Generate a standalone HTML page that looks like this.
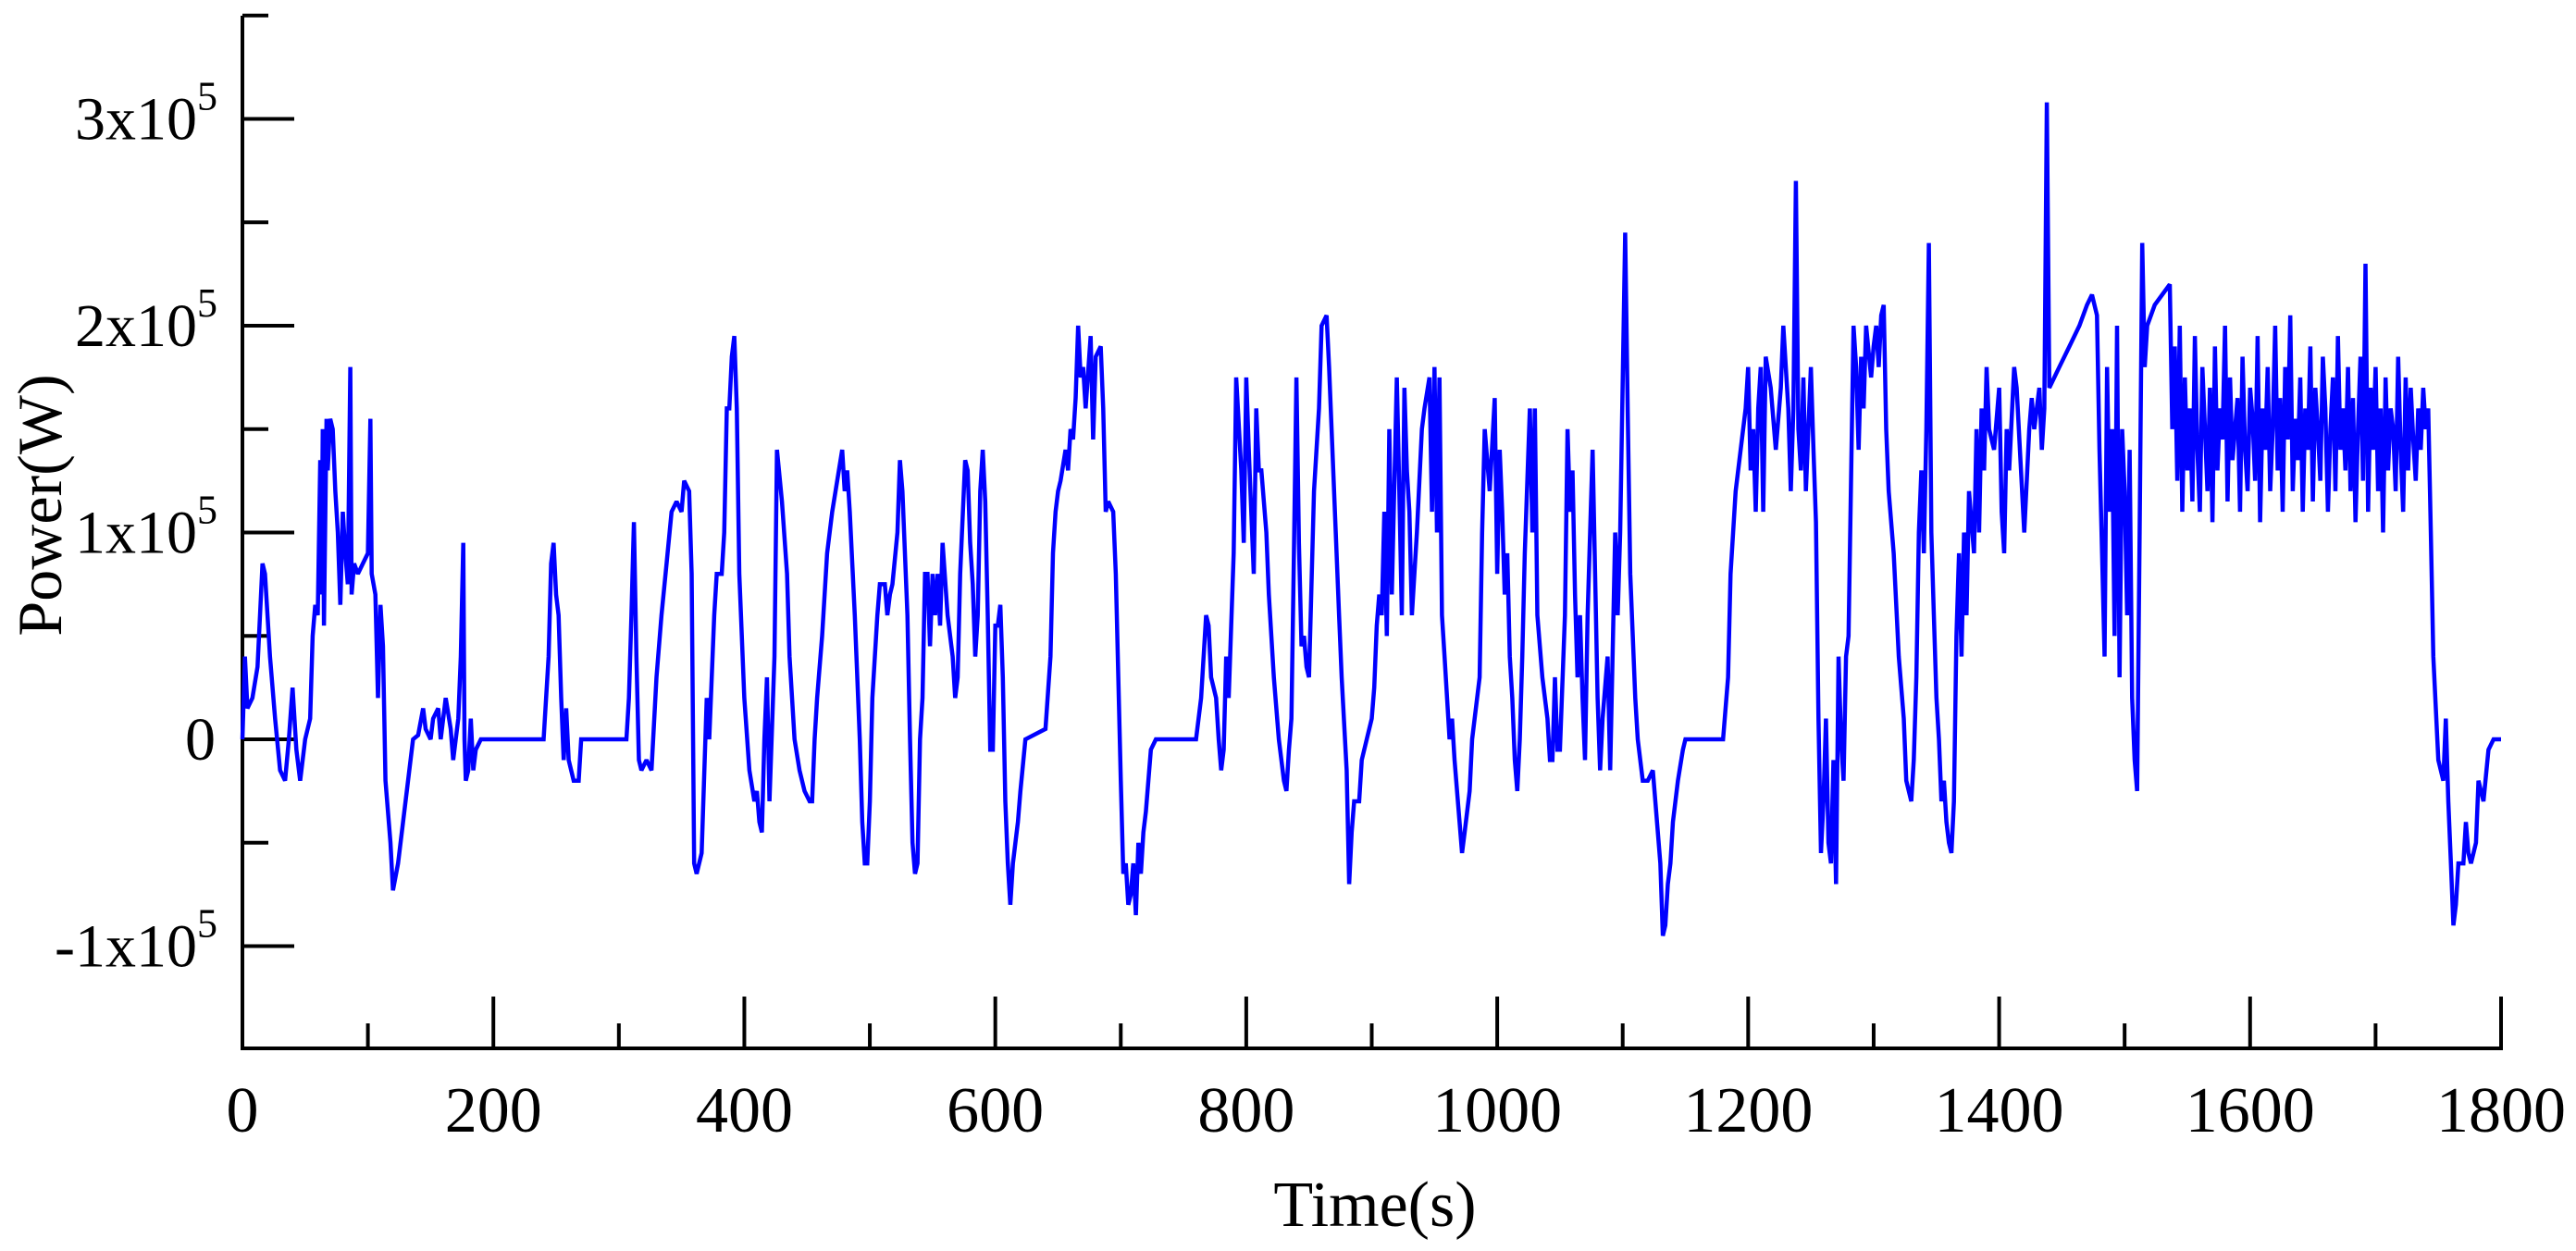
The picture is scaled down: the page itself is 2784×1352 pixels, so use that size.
<!DOCTYPE html>
<html><head><meta charset="utf-8">
<style>
html,body{margin:0;padding:0;background:#fff;}
svg{display:block;}
text{font-family:"Liberation Serif",serif;fill:#000;}
</style></head>
<body>
<svg id="chart" width="2784" height="1352" viewBox="0 0 2784 1352" xmlns="http://www.w3.org/2000/svg">
<g id="axes"></g>
<g id="plot"></g>
<text x="0" y="0" font-size="68" text-anchor="middle" transform="translate(66,546) rotate(-90)">Power(W)</text>
<text x="1486" y="1325" font-size="70" text-anchor="middle">Time(s)</text>
</svg>
<script>
const times = [0,2,4,8,12,16,18,22,26,30,34,37,40,43,46,50,54,56,58,60,62,63,64,65,67,68,70,72,74,76,78,80,82,84,86,87,89,92,96,100,102,103,106,108,110,112,114,118,120,124,128,132,136,140,144,146,150,152,156,158,162,166,168,172,174,176,177,178,180,182,184,186,190,240,244,246,248,250,252,254,256,258,260,264,268,270,306,308,310,312,314,316,318,322,326,330,334,338,342,346,350,352,356,358,360,362,366,370,372,376,378,382,384,386,388,390,392,394,396,400,404,408,410,412,414,416,418,420,424,426,430,434,436,440,444,448,452,454,456,458,462,466,470,474,478,480,482,484,488,492,494,496,498,500,502,506,508,512,514,516,518,522,524,526,530,532,534,536,538,540,542,544,546,548,550,552,554,556,558,562,566,568,570,572,576,578,580,582,584,586,588,590,592,594,596,598,600,602,604,606,608,610,612,614,618,620,624,640,644,646,648,650,652,656,658,660,662,664,666,668,670,672,676,678,680,684,686,688,690,694,696,698,700,702,704,706,708,710,712,714,716,718,720,722,724,728,760,764,768,770,772,776,778,780,782,784,786,790,792,796,798,800,802,804,806,808,810,812,816,818,820,822,826,830,832,834,836,838,840,842,844,846,848,850,854,858,860,864,866,870,874,876,880,882,884,886,890,892,896,900,902,904,906,908,910,912,914,916,920,922,924,926,928,930,932,934,936,940,942,946,948,950,952,954,956,958,960,962,964,966,970,972,974,978,980,986,988,990,994,998,1000,1002,1004,1006,1008,1010,1012,1014,1016,1018,1020,1022,1026,1028,1030,1032,1036,1040,1042,1044,1046,1048,1050,1054,1056,1058,1060,1062,1064,1066,1068,1070,1072,1076,1078,1080,1082,1084,1088,1090,1094,1096,1098,1102,1104,1106,1108,1110,1112,1116,1120,1124,1126,1130,1132,1134,1136,1138,1140,1144,1148,1150,1180,1184,1186,1190,1194,1198,1200,1202,1204,1206,1208,1210,1212,1214,1218,1222,1226,1228,1232,1234,1236,1238,1240,1242,1244,1246,1250,1252,1254,1256,1258,1260,1262,1264,1266,1268,1270,1272,1274,1276,1278,1280,1284,1286,1288,1290,1292,1294,1298,1300,1302,1304,1306,1308,1310,1312,1316,1320,1324,1326,1330,1332,1334,1336,1338,1340,1342,1344,1346,1348,1350,1352,1354,1356,1358,1360,1362,1364,1366,1368,1370,1372,1374,1376,1380,1382,1384,1386,1388,1390,1392,1396,1400,1402,1404,1406,1408,1412,1414,1420,1424,1426,1428,1432,1434,1436,1438,1440,1444,1448,1456,1464,1470,1474,1478,1480,1482,1484,1486,1488,1490,1492,1494,1496,1498,1500,1502,1504,1506,1508,1510,1512,1514,1516,1518,1524,1530,1536,1538];
const powerKW = [0,40,15,20,35,85,80,40,10,-15,-20,0,25,-5,-20,0,10,50,65,60,135,70,150,55,155,130,155,150,120,100,65,110,90,75,180,70,85,80,85,90,155,80,70,20,65,45,-20,-50,-73,-60,-40,-20,0,2,15,5,0,10,15,0,20,5,-10,10,40,95,0,-20,-15,10,-15,-5,0,0,40,85,95,70,60,20,-10,15,-10,-20,-20,0,0,20,60,105,40,-10,-15,-10,-15,30,60,85,110,115,110,125,120,80,-60,-65,-55,20,0,60,80,80,100,160,160,185,195,160,80,20,-15,-30,-25,-40,-45,0,30,-30,40,140,115,80,40,0,-15,-25,-30,-30,0,20,50,90,110,125,140,120,130,110,60,0,-40,-60,-60,-30,20,60,75,75,60,70,75,100,135,120,60,0,-50,-65,-60,0,20,80,80,45,80,60,80,55,95,60,40,20,30,80,135,130,95,75,40,60,120,140,115,60,-5,-5,55,55,65,30,-30,-60,-80,-60,-40,-25,0,5,40,90,110,120,125,140,130,150,145,165,200,175,180,160,195,145,185,190,160,110,115,110,80,30,-20,-65,-60,-80,-75,-60,-85,-50,-65,-45,-35,-20,-5,0,0,20,60,55,30,20,0,-15,-5,40,20,90,175,130,95,175,140,110,80,160,130,130,100,70,50,30,0,-20,-25,-5,10,90,175,95,45,50,35,30,120,160,200,205,180,120,60,30,-15,-70,-45,-30,-30,-10,0,10,25,55,70,60,110,50,150,70,175,120,60,170,130,110,60,80,100,150,160,175,110,180,100,175,60,40,20,0,10,-10,-40,-55,-45,-25,0,30,100,150,120,165,80,140,110,70,90,40,20,-10,-25,0,40,90,160,100,160,60,30,10,-10,-10,30,-5,-5,60,150,110,130,70,30,60,20,-10,60,140,80,20,-15,10,40,-15,100,60,100,245,160,80,50,20,0,-20,-20,-15,-30,-60,-95,-90,-70,-60,-40,-20,-5,0,0,30,80,120,140,160,180,130,150,110,160,180,110,185,170,140,170,200,160,120,160,270,150,130,175,120,180,140,105,10,-55,-30,10,-50,-60,-10,-70,40,0,-20,40,50,200,180,140,185,160,200,175,190,200,180,205,210,150,120,90,40,10,-20,-30,-10,30,100,130,90,150,240,100,60,20,0,-30,-20,-40,-50,-55,-30,50,90,40,100,60,120,90,150,100,160,130,180,150,140,170,110,90,150,130,180,170,100,150,165,150,170,140,160,308,170,175,180,190,200,210,215,205,140,90,40,180,110,150,50,200,30,150,120,60,140,20,-10,-25,100,240,180,200,210,215,220,150];
const bandStart = 1540;
const bandStep = 2;
const bandKW = [190,125,200,110,175,130,160,115,195,140,110,180,150,120,170,105,190,130,160,145,200,115,175,135,150,165,110,185,140,120,170,155,125,195,105,160,140,180,120,150,200,130,165,110,180,145,205,120,155,135,175,110,160,140,190,115,170,150,125,185,160,110,150,175,120,195,140,160,130,180,120,165,105,150,185,125,230,110,170,140,180,120,160,100,175,130,160,150,120,185,140,110,175,130,170,145,125,160,140,170,150];
const tailTimes = [1742,1744,1746,1750,1754,1756,1758,1760,1762,1764,1766,1770,1772,1774,1776,1780,1782,1786,1790,1794,1800];
const tailKW = [160,100,40,-10,-20,10,-30,-60,-90,-80,-60,-60,-40,-55,-60,-50,-20,-30,-5,0,0];
const xTicksMajor = [0,200,400,600,800,1000,1200,1400,1600,1800];
const xTicksMinor = [100,300,500,700,900,1100,1300,1500,1700];
const yTicksMajor = [3,2,1,0,-1];
const yTicksMinor = [3.5,2.5,1.5,0.5,-0.5];
const yTickLabels = ["3x10","2x10","1x10","0","-1x10"];

const NS = "http://www.w3.org/2000/svg";
const X0 = 262, X1 = 2703, TMAX = 1800;
const Y0 = 799, PX_PER_1E5 = 223.5, AXIS_BOTTOM = 1133, AXIS_TOP = 17;
function sx(t){ return X0 + t / TMAX * (X1 - X0); }
function sy(v1e5){ return Y0 - v1e5 * PX_PER_1E5; }
function mk(tag, attrs, parent){ const e = document.createElementNS(NS, tag); for (const k in attrs) e.setAttribute(k, attrs[k]); parent.appendChild(e); return e; }

const axes = document.getElementById('axes');
const yAxis = mk('line', {x1:X0, y1:AXIS_TOP, x2:X0, y2:AXIS_BOTTOM, stroke:'#000', 'stroke-width':4}, axes);


const xAxis = mk('line', {x1:X0-2, y1:AXIS_BOTTOM, x2:X1+2, y2:AXIS_BOTTOM, stroke:'#000', 'stroke-width':4}, axes);



xTicksMajor.forEach(t => {
  const x = sx(t);
  if (t > 0) {
    const l = mk('line', {x1:x, y1:AXIS_BOTTOM, x2:x, y2:AXIS_BOTTOM-56, stroke:'#000', 'stroke-width':4}, axes);
    
    
  }
  const tx = mk('text', {x:x, y:1223, 'font-size':70, 'text-anchor':'middle'}, axes);
  tx.textContent = String(t);
  
  
});
xTicksMinor.forEach(t => {
  const x = sx(t);
  const l = mk('line', {x1:x, y1:AXIS_BOTTOM, x2:x, y2:AXIS_BOTTOM-27, stroke:'#000', 'stroke-width':4}, axes);
  
  
});
yTicksMajor.forEach((v, i) => {
  const y = sy(v);
  const l = mk('line', {x1:X0, y1:y, x2:X0+56, y2:y, stroke:'#000', 'stroke-width':4}, axes);
  
  
  const lab = yTickLabels[i];
  const tx = mk('text', {x:lab === "0" ? 233 : 213, y:y+22, 'font-size':66, 'text-anchor':'end'}, axes);
  tx.textContent = lab;
  
  
  if (lab !== "0") {
    const sup = mk('text', {x:213, y:y-10, 'font-size':44, 'text-anchor':'start'}, axes);
    sup.textContent = "5";
    
    
  }
});
yTicksMinor.forEach(v => {
  const y = sy(v);
  const l = mk('line', {x1:X0, y1:y, x2:X0+28, y2:y, stroke:'#000', 'stroke-width':4}, axes);
  
  
});

let pts = [];
times.forEach((t, i) => pts.push([t, powerKW[i]]));
bandKW.forEach((v, i) => pts.push([bandStart + i * bandStep, v]));
tailTimes.forEach((t, i) => pts.push([t, tailKW[i]]));
const d = pts.map((p, i) => (i ? 'L' : 'M') + sx(p[0]).toFixed(1) + ' ' + sy(p[1] / 100).toFixed(1)).join(' ');
const path = mk('path', {d:d, fill:'none', stroke:'#0000ff', 'stroke-width':4.5, 'stroke-linejoin':'miter', 'stroke-miterlimit':2}, document.getElementById('plot'));


</script>
</body></html>
